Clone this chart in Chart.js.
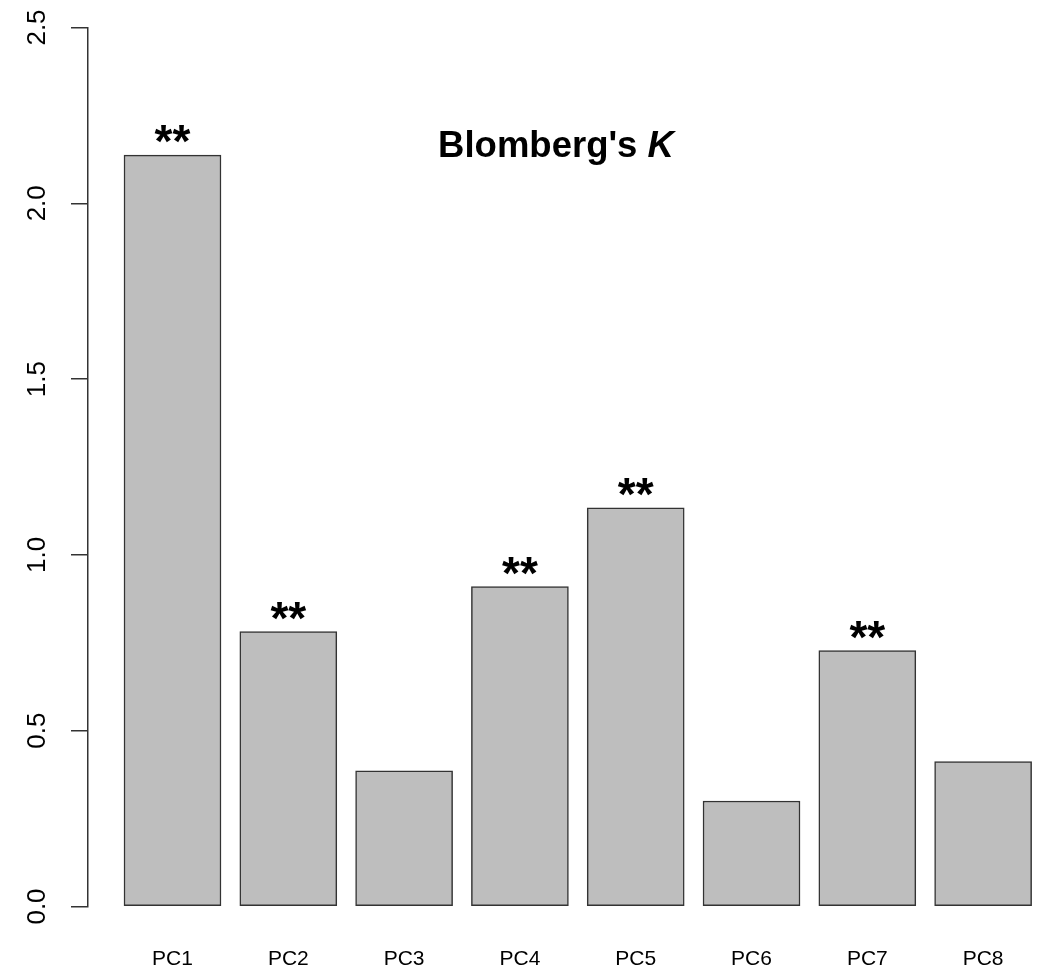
<!DOCTYPE html>
<html>
<head>
<meta charset="utf-8">
<script src="https://cdn.jsdelivr.net/npm/chart.js@4.4.1/dist/chart.umd.min.js"></script>
<style>
  html, body { margin: 0; padding: 0; background: #fff; }
  #wrap { width: 1048px; height: 976px; }
</style>
</head>
<body>
<div id="wrap"><canvas id="blomberg" width="1048" height="976"></canvas></div>
<script>
/* Blomberg's K per principal component */
var categories = ['PC1', 'PC2', 'PC3', 'PC4', 'PC5', 'PC6', 'PC7', 'PC8']
var kValues = [2.137, 0.782, 0.386, 0.910, 1.134, 0.300, 0.728, 0.412]
var significance = ['**', '**', '', '**', '**', '', '**', '']
var yTicks = [0, 0.5, 1.0, 1.5, 2.0, 2.5]

;(function () {
  'use strict'

  var FONT = '"Liberation Sans", Arial, Helvetica, sans-serif'

  // stars over the bars + the title text
  var annotations = {
    id: 'annotations',
    afterDatasetsDraw: function (chart) {
      var ctx = chart.ctx
      var bars = chart.getDatasetMeta(0).data
      ctx.save()
      ctx.fillStyle = '#000'
      ctx.textAlign = 'center'
      ctx.textBaseline = 'alphabetic'
      ctx.font = 'bold 46px ' + FONT
      bars.forEach(function (bar, i) {
        if (significance[i]) ctx.fillText(significance[i], bar.x, bar.y + 2)
      })

      var part1 = "Blomberg's "
      var part2 = 'K'
      var f1 = 'bold 36.5px ' + FONT
      var f2 = 'italic bold 36.5px ' + FONT
      ctx.font = f1
      var w1 = ctx.measureText(part1).width
      ctx.font = f2
      var w2 = ctx.measureText(part2).width
      var x0 = 556 - (w1 + w2) / 2
      ctx.textAlign = 'left'
      ctx.font = f1
      ctx.fillText(part1, x0, 157)
      ctx.font = f2
      ctx.fillText(part2, x0 + w1, 157)
      ctx.restore()
    }
  }

  var data = {
    datasets: [{
      label: "Blomberg's K",
      data: categories.map(function (c, i) { return { x: i + 1, y: kValues[i] } }),
      backgroundColor: '#bebebe',
      borderColor: '#333333',
      borderWidth: 1.5,
      borderSkipped: false,
      barThickness: 97
    }]
  }

  var options = {
    responsive: false,
    animation: false,
    layout: { padding: { top: 27.5, right: 2, left: 0, bottom: 0 } },
    plugins: {
      legend: { display: false },
      tooltip: { enabled: false }
    },
    scales: {
      x: {
        type: 'linear',
        offset: false,
        min: 0.2703,
        max: 8.543,
        grid: { display: false, offset: false },
        border: { display: false },
        afterFit: function (scale) {
          scale.height = 69.5
          scale.paddingLeft = 0
          scale.paddingRight = 0
        },
        afterBuildTicks: function (scale) {
          scale.ticks = categories.map(function (c, i) { return { value: i + 1 } })
        },
        ticks: {
          padding: 32,
          color: '#000',
          font: { family: FONT, size: 21 },
          callback: function (v) { return categories[Math.round(v) - 1] }
        }
      },
      y: {
        min: yTicks[0],
        max: yTicks[yTicks.length - 1],
        afterFit: function (scale) {
          scale.width = 88
          scale.paddingTop = 0
          scale.paddingBottom = 0
        },
        afterBuildTicks: function (scale) {
          scale.ticks = yTicks.map(function (v) { return { value: v } })
        },
        grid: {
          drawOnChartArea: false,
          tickLength: 17,
          tickColor: '#333333',
          lineWidth: 1.5
        },
        border: { display: true, color: '#333333', width: 1.5 },
        ticks: {
          minRotation: 90,
          maxRotation: 90,
          crossAlign: 'center',
          padding: 15,
          color: '#000',
          font: { family: FONT, size: 26 },
          callback: function (v) { return v.toFixed(1) }
        }
      }
    }
  }

  var config = {
    type: 'bar',
    data: data,
    options: options,
    plugins: [annotations]
  }

  var myChart = new Chart(document.getElementById('blomberg'), config)
})()
</script>
</body>
</html>
